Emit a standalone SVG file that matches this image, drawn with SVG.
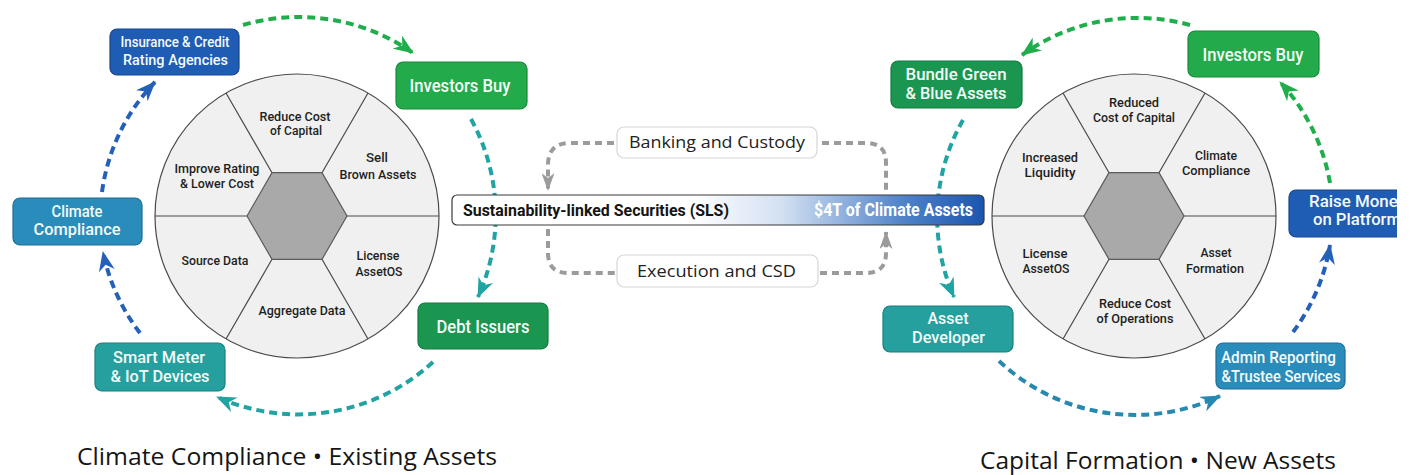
<svg xmlns="http://www.w3.org/2000/svg" width="1411" height="475" viewBox="0 0 1411 475">
<defs>
<style>
.wheel{fill:#f0f0f0;stroke:#4a4a4a;stroke-width:1.2}
.hex{fill:#a9a9a9;stroke:#5a5a5a;stroke-width:1.2}
.spoke{stroke:#4a4a4a;stroke-width:1.2;fill:none}
.seg{font-family:Roboto,"Liberation Sans",sans-serif;font-size:13.5px;font-weight:500;fill:#1e1e1e;text-anchor:middle}
.bl{font-family:Roboto,"Liberation Sans",sans-serif;font-weight:500;fill:#f4fbf8;text-anchor:middle}
.dash{fill:none;stroke-width:4;stroke-dasharray:8 5}
.gdash{fill:none;stroke:#9b9b9b;stroke-width:4;stroke-dasharray:7 5}
.pill{fill:#fff;stroke:#d6d6d6;stroke-width:1.2}
.ptxt{font-family:"Open Sans","Liberation Sans",sans-serif;font-size:16.5px;fill:#222;text-anchor:middle}
.title{font-family:"Open Sans","Liberation Sans",sans-serif;font-size:23px;fill:#151515}
.g1{fill:#22aa4b;stroke:#178a3a;stroke-width:1.2}
.g2{fill:#1a9651;stroke:#137a40;stroke-width:1.2}
.t1{fill:#25a09e;stroke:#1a7f7e;stroke-width:1.2}
.b1{fill:#2a8cba;stroke:#1f6f96;stroke-width:1.2}
.b2{fill:#1f5cb4;stroke:#17468c;stroke-width:1.2}
</style>
<linearGradient id="barGrad" x1="0" y1="0" x2="1" y2="0">
<stop offset="0" stop-color="#ffffff"/>
<stop offset="0.45" stop-color="#ffffff"/>
<stop offset="0.62" stop-color="#d3e0f2"/>
<stop offset="0.85" stop-color="#4f82c8"/>
<stop offset="1" stop-color="#1b55ae"/>
</linearGradient>
<clipPath id="edge"><rect x="0" y="0" width="1397" height="475"/></clipPath>
<marker id="aGreen" viewBox="0 0 20 16" refX="19" refY="8" markerWidth="20" markerHeight="16" markerUnits="userSpaceOnUse" orient="auto"><path d="M0,0 L20,8 L0,16 L6,8 z" fill="#1fae4b"/></marker>
<marker id="aTeal" viewBox="0 0 20 16" refX="19" refY="8" markerWidth="20" markerHeight="16" markerUnits="userSpaceOnUse" orient="auto"><path d="M0,0 L20,8 L0,16 L6,8 z" fill="#22a3a3"/></marker>
<marker id="aBlue" viewBox="0 0 20 16" refX="19" refY="8" markerWidth="20" markerHeight="16" markerUnits="userSpaceOnUse" orient="auto"><path d="M0,0 L20,8 L0,16 L6,8 z" fill="#2560b8"/></marker>
<marker id="aTB" viewBox="0 0 20 16" refX="19" refY="8" markerWidth="20" markerHeight="16" markerUnits="userSpaceOnUse" orient="auto"><path d="M0,0 L20,8 L0,16 L6,8 z" fill="#2889b0"/></marker>
<marker id="aGray" viewBox="0 0 18 13" refX="17" refY="6.5" markerWidth="18" markerHeight="13" markerUnits="userSpaceOnUse" orient="auto"><path d="M0,0 L18,6.5 L0,13 L5,6.5 z" fill="#9b9b9b"/></marker>
</defs>
<rect width="1411" height="475" fill="#ffffff"/>

<g id="connectors">
<path class="dash" stroke="#1fae4b" d="M 243 25 A 199 199 0 0 1 413 53" marker-end="url(#aGreen)"/>
<path class="dash" stroke="#22a3a3" d="M 471 119 A 199 199 0 0 1 478 297" marker-end="url(#aTeal)"/>
<path class="dash" stroke="#22a3a3" d="M 433 362 A 199 199 0 0 1 217 397" marker-end="url(#aTeal)"/>
<path class="dash" stroke="#2560b8" d="M 140 333 A 198 198 0 0 1 103 252" marker-end="url(#aBlue)"/>
<path class="dash" stroke="#2560b8" d="M 102 192 A 197 197 0 0 1 155 82" marker-end="url(#aBlue)"/>
<path class="dash" stroke="#1fae4b" d="M 1190 25 A 198 198 0 0 0 1022 55" marker-end="url(#aGreen)"/>
<path class="dash" stroke="#22a3a3" d="M 963 120 A 197 197 0 0 0 954 297" marker-end="url(#aTeal)"/>
<path class="dash" stroke="#2889b0" d="M 999 361 A 199 199 0 0 0 1220 396" marker-end="url(#aTB)"/>
<path class="dash" stroke="#2560b8" d="M 1293 332 A 198 198 0 0 0 1330 245" marker-end="url(#aBlue)"/>
<path class="dash" stroke="#1fae4b" d="M 1330 183 A 198 198 0 0 0 1280 82" marker-end="url(#aGreen)"/>
<path class="gdash" d="M 614 143 L 570 143 Q 548 143 548 165 L 548 190" marker-end="url(#aGray)"/>
<path class="gdash" d="M 822 143 L 866 143 Q 886 143 886 163 L 886 190"/>
<path class="gdash" d="M 548 229 L 548 253 Q 548 273 568 273 L 615 273"/>
<path class="gdash" d="M 820 273 L 866 273 Q 886 273 886 253 L 886 232" marker-end="url(#aGray)"/>
</g>

<g id="wheel-left">
<circle class="wheel" cx="297" cy="216" r="142"/>
<path class="spoke" d="M347 216 L439 216 M322 259.3 L368 339 M272 259.3 L226 339 M247 216 L155 216 M272 172.7 L226 93 M322 172.7 L368 93"/>
<polygon class="hex" points="347,216 322,259.3 272,259.3 247,216 272,172.7 322,172.7"/>
<text class="seg" x="295" y="121" textLength="71" lengthAdjust="spacingAndGlyphs">Reduce Cost</text>
<text class="seg" x="296" y="135" textLength="52" lengthAdjust="spacingAndGlyphs">of Capital</text>
<text class="seg" x="377" y="162" textLength="22" lengthAdjust="spacingAndGlyphs">Sell</text>
<text class="seg" x="378" y="179" textLength="77" lengthAdjust="spacingAndGlyphs">Brown Assets</text>
<text class="seg" x="217" y="173" textLength="85" lengthAdjust="spacingAndGlyphs">Improve Rating</text>
<text class="seg" x="217" y="188" textLength="74" lengthAdjust="spacingAndGlyphs">&amp; Lower Cost</text>
<text class="seg" x="215" y="265" textLength="67" lengthAdjust="spacingAndGlyphs">Source Data</text>
<text class="seg" x="378" y="260" textLength="43" lengthAdjust="spacingAndGlyphs">License</text>
<text class="seg" x="379" y="276" textLength="47" lengthAdjust="spacingAndGlyphs">AssetOS</text>
<text class="seg" x="302" y="315" textLength="87" lengthAdjust="spacingAndGlyphs">Aggregate Data</text>
</g>

<g id="wheel-right">
<circle class="wheel" cx="1134" cy="216" r="142"/>
<path class="spoke" d="M1184 216 L1276 216 M1159 259.3 L1205 339 M1109 259.3 L1063 339 M1084 216 L992 216 M1109 172.7 L1063 93 M1159 172.7 L1205 93"/>
<polygon class="hex" points="1184,216 1159,259.3 1109,259.3 1084,216 1109,172.7 1159,172.7"/>
<text class="seg" x="1134" y="107" textLength="50" lengthAdjust="spacingAndGlyphs">Reduced</text>
<text class="seg" x="1134" y="122" textLength="82" lengthAdjust="spacingAndGlyphs">Cost of Capital</text>
<text class="seg" x="1050" y="162" textLength="56" lengthAdjust="spacingAndGlyphs">Increased</text>
<text class="seg" x="1050" y="177" textLength="51" lengthAdjust="spacingAndGlyphs">Liquidity</text>
<text class="seg" x="1216" y="160" textLength="42" lengthAdjust="spacingAndGlyphs">Climate</text>
<text class="seg" x="1216" y="175" textLength="68" lengthAdjust="spacingAndGlyphs">Compliance</text>
<text class="seg" x="1045" y="258" textLength="45" lengthAdjust="spacingAndGlyphs">License</text>
<text class="seg" x="1046" y="273" textLength="47" lengthAdjust="spacingAndGlyphs">AssetOS</text>
<text class="seg" x="1216" y="257" textLength="31" lengthAdjust="spacingAndGlyphs">Asset</text>
<text class="seg" x="1215" y="273" textLength="58" lengthAdjust="spacingAndGlyphs">Formation</text>
<text class="seg" x="1135" y="308" textLength="72" lengthAdjust="spacingAndGlyphs">Reduce Cost</text>
<text class="seg" x="1135" y="323" textLength="77" lengthAdjust="spacingAndGlyphs">of Operations</text>
</g>

<g id="insurance-rating">
<rect class="b2" x="110" y="29" width="129" height="46" rx="7"/>
<text class="bl" x="175" y="47" font-size="15.5" textLength="109" lengthAdjust="spacingAndGlyphs">Insurance &amp; Credit</text>
<text class="bl" x="175.5" y="65" font-size="15.5" textLength="105" lengthAdjust="spacingAndGlyphs">Rating Agencies</text>
</g>
<g id="investors-buy-left">
<rect class="g1" x="396" y="62" width="131" height="47" rx="7"/>
<text class="bl" x="460" y="92" font-size="19" textLength="101" lengthAdjust="spacingAndGlyphs">Investors Buy</text>
</g>
<g id="climate-compliance-left">
<rect class="b1" x="13" y="198" width="129" height="47" rx="7"/>
<text class="bl" x="77" y="217" font-size="17" textLength="51" lengthAdjust="spacingAndGlyphs">Climate</text>
<text class="bl" x="77" y="235" font-size="17" textLength="87" lengthAdjust="spacingAndGlyphs">Compliance</text>
</g>
<g id="smart-meter">
<rect class="t1" x="95" y="343" width="130" height="48" rx="7"/>
<text class="bl" x="159" y="363" font-size="17" textLength="92" lengthAdjust="spacingAndGlyphs">Smart Meter</text>
<text class="bl" x="160" y="382" font-size="17" textLength="99" lengthAdjust="spacingAndGlyphs">&amp; IoT Devices</text>
</g>
<g id="debt-issuers">
<rect class="g2" x="418" y="303" width="130" height="46" rx="7"/>
<text class="bl" x="483" y="333" font-size="19" textLength="93" lengthAdjust="spacingAndGlyphs">Debt Issuers</text>
</g>

<g id="banking-custody">
<rect class="pill" x="617" y="127" width="200" height="31" rx="7"/>
<text class="ptxt" x="717" y="148" textLength="176" lengthAdjust="spacingAndGlyphs">Banking and Custody</text>
</g>
<g id="execution-csd">
<rect class="pill" x="617" y="255" width="201" height="32" rx="7"/>
<text class="ptxt" x="716.5" y="277" textLength="159" lengthAdjust="spacingAndGlyphs">Execution and CSD</text>
</g>
<g id="sls-bar">
<rect x="452" y="195" width="532" height="30" rx="5" fill="url(#barGrad)" stroke="#3a3a3a" stroke-width="1.2"/>
<text x="463" y="216" font-family="Roboto,'Liberation Sans',sans-serif" font-weight="700" font-size="17" fill="#141414" textLength="266" lengthAdjust="spacingAndGlyphs">Sustainability-linked Securities (SLS)</text>
<text x="973" y="216" text-anchor="end" font-family="Roboto,'Liberation Sans',sans-serif" font-weight="700" font-size="18" fill="#ffffff" textLength="159" lengthAdjust="spacingAndGlyphs">$4T of Climate Assets</text>
</g>

<g id="bundle-assets">
<rect class="g2" x="891" y="61" width="131" height="47" rx="7"/>
<text class="bl" x="956" y="80" font-size="17" textLength="101" lengthAdjust="spacingAndGlyphs">Bundle Green</text>
<text class="bl" x="956" y="99" font-size="17" textLength="101" lengthAdjust="spacingAndGlyphs">&amp; Blue Assets</text>
</g>
<g id="investors-buy-right">
<rect class="g1" x="1188" y="31" width="131" height="46" rx="7"/>
<text class="bl" x="1253" y="61" font-size="19" textLength="101" lengthAdjust="spacingAndGlyphs">Investors Buy</text>
</g>
<g id="raise-money" clip-path="url(#edge)">
<rect class="b2" x="1289" y="190" width="130" height="47" rx="7"/>
<text class="bl" x="1309" y="207" font-size="17" style="text-anchor:start" textLength="97" lengthAdjust="spacingAndGlyphs">Raise Money</text>
<text class="bl" x="1313" y="225" font-size="17" style="text-anchor:start" textLength="88" lengthAdjust="spacingAndGlyphs">on Platform</text>
</g>
<g id="asset-developer">
<rect class="t1" x="883" y="306" width="130" height="46" rx="7"/>
<text class="bl" x="948" y="324" font-size="16" textLength="41" lengthAdjust="spacingAndGlyphs">Asset</text>
<text class="bl" x="948.5" y="343" font-size="16" textLength="73" lengthAdjust="spacingAndGlyphs">Developer</text>
</g>
<g id="admin-reporting">
<rect class="b1" x="1216" y="343" width="129" height="46" rx="7"/>
<text class="bl" x="1278.5" y="363" font-size="16" textLength="115" lengthAdjust="spacingAndGlyphs">Admin Reporting</text>
<text class="bl" x="1281" y="382" font-size="16" textLength="119" lengthAdjust="spacingAndGlyphs">&amp;Trustee Services</text>
</g>

<g id="titles">
<text class="title" x="77" y="465" textLength="420" lengthAdjust="spacingAndGlyphs">Climate Compliance • Existing Assets</text>
<text class="title" x="980" y="469" textLength="356" lengthAdjust="spacingAndGlyphs">Capital Formation • New Assets</text>
</g>
</svg>
